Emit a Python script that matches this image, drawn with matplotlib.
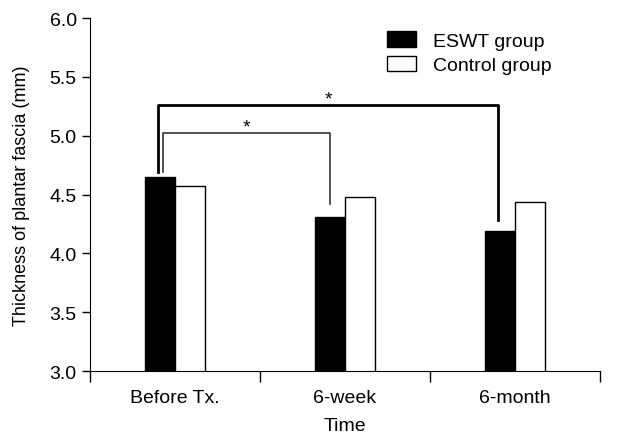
import matplotlib
matplotlib.use('Agg')
import matplotlib.pyplot as plt
import numpy as np

plt.rcParams['font.family'] = ['Liberation Sans', 'DejaVu Sans']

times = ['Before Tx.', '6-week', '6-month']
eswt = [4.65, 4.31, 4.19]
control = [4.57, 4.48, 4.44]

fig = plt.figure(figsize=(6.17, 4.35), dpi=100)
ax = fig.add_axes([0.1459, 0.1448, 0.8265, 0.8115])

x = np.arange(len(times))
w = 0.176
ax.bar(x - w / 2, eswt, w, color='black', edgecolor='black', linewidth=1, label='ESWT group')
ax.bar(x + w / 2, control, w, color='white', edgecolor='black', linewidth=1, label='Control group')

# significance brackets
ax.plot([-0.10, -0.10, 1.90, 1.90], [4.69, 5.26, 5.26, 4.28], color='black', linewidth=2)
ax.plot([-0.069, -0.069, 0.912, 0.912], [4.69, 5.02, 5.02, 4.42], color='#333333', linewidth=1.2)
ax.text(0.90, 5.31, '*', ha='center', va='center', fontsize=14)
ax.text(0.42, 5.07, '*', ha='center', va='center', fontsize=14)

ax.set_xlim(-0.5, 2.5)
ax.set_ylim(3.0, 6.0)
yt = np.arange(3.0, 6.01, 0.5)
ax.set_yticks(yt)
ax.set_yticklabels(['%.1f' % v for v in yt])
ax.set_xticks(x)
ax.set_xticklabels(times)
ax.set_xticks([-0.5, 0.5, 1.5, 2.5], minor=True)
ax.tick_params(axis='x', which='major', length=0, pad=13, labelsize=14)
ax.tick_params(axis='x', which='minor', length=8, width=1)
ax.tick_params(axis='y', length=6, width=1, labelsize=14)

for s in ['top', 'right']:
    ax.spines[s].set_visible(False)

ax.set_xlabel('Time', fontsize=14, labelpad=8)
ax.set_ylabel('Thickness of plantar fascia (mm)', fontsize=13, labelpad=14)

ax.legend(loc='upper left', bbox_to_anchor=(0.582, 0.962), frameon=False, fontsize=14,
          borderpad=0, borderaxespad=0,
          handlelength=1.5, handleheight=0.82, labelspacing=0.3, handletextpad=0.9)

plt.savefig('out.png', dpi=100)
plt.close()
